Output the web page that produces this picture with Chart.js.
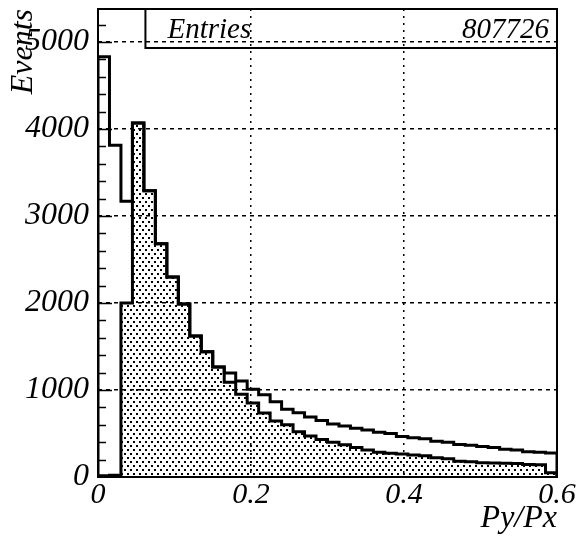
<!DOCTYPE html>
<html>
<head>
<meta charset="utf-8">
<script src="https://cdn.jsdelivr.net/npm/chart.js@4.4.0/dist/chart.umd.min.js"></script>
<style>
  html, body { margin: 0; padding: 0; background: #fff; }
  #wrap { width: 582px; height: 538px; }
</style>
</head>
<body>
<div id="wrap"><canvas id="histo" width="582" height="538"></canvas></div>
<script>
// histogram Py/Px, 40 bins of 0.015 from 0 to 0.6
const binWidth = 0.015;
const xMin = 0;
const xMax = 0.6;
const yMax = 5380;
const entries = 807726;

// all events (outline)
const allEvents = [4830, 3815, 3170, 4070, 3290, 2680, 2300, 1990, 1620, 1440,
                   1265, 1195, 1105, 1010, 945, 865, 780, 740, 690, 650,
                   610, 585, 560, 540, 515, 500, 465, 450, 440, 410,
                   400, 375, 365, 350, 340, 320, 310, 290, 285, 275];

// selected events (dotted fill)
const selectedEvents = [15, 20, 2000, 4070, 3290, 2680, 2300, 1990, 1620, 1440,
                        1265, 1090, 950, 850, 735, 645, 600, 520, 470, 430,
                        400, 370, 340, 310, 285, 272, 265, 253, 245, 220,
                        210, 180, 175, 165, 160, 158, 155, 145, 140, 50];

const xTicks = [0, 0.2, 0.4, 0.6];
const yTicks = [0, 1000, 2000, 3000, 4000, 5000];

const serif = 'Liberation Serif';

// bin contents -> step points (left edges, closed at both ends)
function toSteps(values) {
    const pts = [{ x: xMin, y: 0 }];
    values.forEach((v, i) => pts.push({ x: xMin + i * binWidth, y: v }));
    pts.push({ x: xMax, y: values[values.length - 1] });
    pts.push({ x: xMax, y: 0 });
    return pts;
}

// dotted fill
function dotPattern() {
    const c = document.createElement('canvas');
    c.width = 6; c.height = 8;
    const g = c.getContext('2d');
    g.fillStyle = '#000';
    g.fillRect(1, 1, 2, 2);
    g.fillRect(4, 5, 2, 2);
    return document.getElementById('histo').getContext('2d').createPattern(c, 'repeat');
}

// frame, minor ticks and stats box
const framePlugin = {
    id: 'frame',
    afterDatasetsDraw(chart) {
        const { ctx, chartArea: a, scales } = chart;
        ctx.save();
        ctx.strokeStyle = '#000';
        ctx.lineWidth = 2;
        ctx.strokeRect(a.left, a.top, a.right - a.left, a.bottom - a.top);

        // small ticks on y axis
        ctx.lineWidth = 1.5;
        ctx.beginPath();
        for (let v = 200; v < yMax; v += 200) {
            const y = Math.round(scales.y.getPixelForValue(v)) + 0.5;
            const len = v % 1000 === 0 ? 14 : 8;
            ctx.moveTo(a.left, y);
            ctx.lineTo(a.left + len, y);
        }
        ctx.stroke();

        // stats box
        const bx = scales.x.getPixelForValue(0.062);
        const by = a.top + 39;
        ctx.lineWidth = 2;
        ctx.beginPath();
        ctx.moveTo(bx, a.top);
        ctx.lineTo(bx, by);
        ctx.lineTo(a.right, by);
        ctx.stroke();
        ctx.fillStyle = '#000';
        ctx.font = 'italic 29px "' + serif + '"';
        ctx.textBaseline = 'alphabetic';
        ctx.textAlign = 'left';
        ctx.fillText('Entries', bx + 22, by - 10);
        ctx.textAlign = 'right';
        ctx.fillText(String(entries), a.right - 8, by - 10);
        ctx.restore();
    }
};

new Chart(document.getElementById('histo'), {
    type: 'line',
    data: {
        datasets: [
            {
                label: 'selected',
                data: toSteps(selectedEvents),
                stepped: 'before',
                borderColor: '#000',
                borderWidth: 3,
                backgroundColor: dotPattern(),
                fill: 'origin',
                pointRadius: 0
            },
            {
                label: 'all',
                data: toSteps(allEvents),
                stepped: 'before',
                borderColor: '#000',
                borderWidth: 3,
                fill: false,
                pointRadius: 0
            }
        ]
    },
    options: {
        responsive: false,
        animation: false,
        layout: { padding: { top: 9, right: 25, left: 0, bottom: 0 } },
        plugins: {
            legend: { display: false },
            tooltip: { enabled: false }
        },
        scales: {
            x: {
                type: 'linear',
                min: xMin,
                max: xMax,
                afterBuildTicks: s => { s.ticks = xTicks.map(v => ({ value: v })); },
                afterFit: s => { s.height = 61; s.paddingLeft = 0; s.paddingRight = 0; },
                ticks: {
                    color: '#000',
                    font: { family: serif, style: 'italic', size: 30 },
                    padding: 0,
                    maxRotation: 0,
                    callback: v => (v === 0 ? '0' : v.toFixed(1))
                },
                grid: {
                    drawTicks: false,
                    lineWidth: 1.5,
                    color: c => (c.tick && (c.tick.value === 0.2 || c.tick.value === 0.4) ? '#000' : 'rgba(0,0,0,0)')
                },
                border: { display: false, dash: [2, 5] },
                title: {
                    display: true,
                    text: 'Py/Px',
                    align: 'end',
                    color: '#000',
                    font: { family: serif, style: 'italic', size: 32 },
                    padding: { top: 0, bottom: 0 }
                }
            },
            y: {
                min: 0,
                max: yMax,
                afterBuildTicks: s => { s.ticks = yTicks.map(v => ({ value: v })); },
                afterFit: s => { s.width = 98; s.paddingTop = 0; s.paddingBottom = 0; },
                ticks: {
                    color: '#000',
                    font: { family: serif, style: 'italic', size: 32 },
                    padding: 9,
                    callback: v => String(v)
                },
                grid: {
                    drawTicks: false,
                    lineWidth: 1.5,
                    color: c => (c.tick && c.tick.value > 0 ? '#000' : 'rgba(0,0,0,0)')
                },
                border: { display: false, dash: [4, 4] },
                title: {
                    display: true,
                    text: 'Events',
                    align: 'end',
                    color: '#000',
                    font: { family: serif, style: 'italic', size: 32 },
                    padding: { top: 4, bottom: 0 }
                }
            }
        }
    },
    plugins: [framePlugin]
});
</script>
</body>
</html>
